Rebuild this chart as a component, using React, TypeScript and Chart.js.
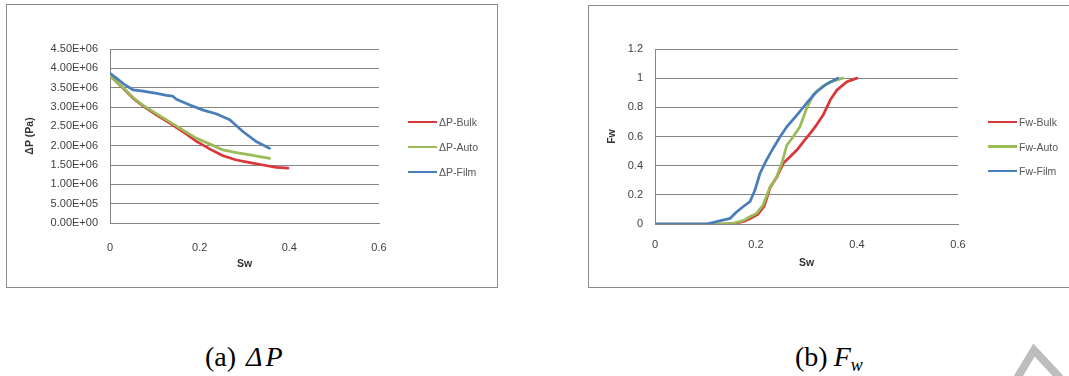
import React, { useEffect, useRef } from "react";
import { Chart, registerables } from "chart.js";

Chart.register(...registerables);

// ---------- data: (a) pressure drop ----------
const dpBulkSw = [0, 0.03, 0.052, 0.074, 0.104, 0.134, 0.163, 0.193, 0.223, 0.252, 0.282, 0.312, 0.341, 0.371, 0.397];
const dpBulk = [3.82e6, 3.48e6, 3.22e6, 3.02e6, 2.79e6, 2.58e6, 2.36e6, 2.11e6, 1.91e6, 1.74e6, 1.63e6, 1.56e6, 1.5e6, 1.44e6, 1.42e6];

const dpAutoSw = [0, 0.03, 0.052, 0.074, 0.104, 0.134, 0.163, 0.193, 0.223, 0.252, 0.282, 0.312, 0.356];
const dpAuto = [3.8e6, 3.49e6, 3.24e6, 3.04e6, 2.82e6, 2.61e6, 2.4e6, 2.19e6, 2.04e6, 1.89e6, 1.82e6, 1.76e6, 1.67e6];

const dpFilmSw = [0, 0.015, 0.03, 0.052, 0.074, 0.09, 0.104, 0.126, 0.14, 0.148, 0.178, 0.208, 0.238, 0.267, 0.297, 0.327, 0.356];
const dpFilm = [3.87e6, 3.74e6, 3.6e6, 3.44e6, 3.41e6, 3.38e6, 3.35e6, 3.3e6, 3.28e6, 3.2e6, 3.05e6, 2.92e6, 2.82e6, 2.67e6, 2.36e6, 2.1e6, 1.93e6];

// ---------- data: (b) fractional flow ----------
const fwBulkSw = [0, 0.1, 0.135, 0.16, 0.178, 0.19, 0.203, 0.216, 0.228, 0.241, 0.254, 0.267, 0.281, 0.294, 0.307, 0.32, 0.333, 0.347, 0.36, 0.38, 0.4];
const fwBulk = [0, 0, 0, 0.005, 0.02, 0.04, 0.065, 0.12, 0.25, 0.32, 0.416, 0.46, 0.507, 0.565, 0.62, 0.68, 0.747, 0.85, 0.918, 0.975, 1.0];

const fwAutoSw = [0, 0.1, 0.129, 0.155, 0.175, 0.188, 0.201, 0.214, 0.228, 0.241, 0.251, 0.261, 0.274, 0.287, 0.3, 0.313, 0.33, 0.347, 0.372];
const fwAuto = [0, 0, 0, 0.005, 0.023, 0.05, 0.073, 0.13, 0.256, 0.324, 0.416, 0.54, 0.6, 0.667, 0.79, 0.885, 0.94, 0.975, 1.0];

const fwFilmSw = [0, 0.05, 0.102, 0.122, 0.149, 0.162, 0.175, 0.188, 0.198, 0.208, 0.221, 0.234, 0.248, 0.261, 0.281, 0.3, 0.32, 0.34, 0.362];
const fwFilm = [0, 0, 0, 0.016, 0.039, 0.084, 0.12, 0.153, 0.233, 0.348, 0.44, 0.52, 0.6, 0.667, 0.747, 0.828, 0.907, 0.96, 1.0];

// ---------- ticks / labels ----------
const swTicks = [0, 0.2, 0.4, 0.6];
const dpTicks = [0, 0.5e6, 1e6, 1.5e6, 2e6, 2.5e6, 3e6, 3.5e6, 4e6, 4.5e6];
const fwTicks = [0, 0.2, 0.4, 0.6, 0.8, 1, 1.2];
const dpLabels = ["ΔP-Bulk", "ΔP-Auto", "ΔP-Film"];
const fwLabels = ["Fw-Bulk", "Fw-Auto", "Fw-Film"];
const seriesColors = ["#d8383a", "#9bbb59", "#4a7ebb"];

const TICK_FONT = "'Liberation Sans', Arial, sans-serif";
const GRID = "#858585";

function fmtE(v: number): string {
  if (v === 0) return "0.00E+00";
  const [m, e] = v.toExponential(2).split("e");
  const n = parseInt(e, 10);
  return `${m}E${n < 0 ? "-" : "+"}${String(Math.abs(n)).padStart(2, "0")}`;
}

function fmtPlain(v: number): string {
  return String(Math.round(v * 100) / 100);
}

type Series = { label: string; x: number[]; y: number[]; color: string; order: number };

type PanelProps = {
  width: number;
  height: number;
  series: Series[];
  yTicks: number[];
  yFmt: (v: number) => string;
  yTitle: string;
  padTop: number;
  padRight: number;
  yAxisW: number;
  xAxisH: number;
  yTitlePad: number;
  xTickPad: number;
  xTitlePad: number;
};

function ChartPanel(p: PanelProps) {
  const ref = useRef<HTMLCanvasElement | null>(null);
  useEffect(() => {
    if (!ref.current) return;
    const chart = new Chart(ref.current, {
      type: "scatter",
      data: {
        datasets: p.series.map((s) => ({
          label: s.label,
          data: s.x.map((x, i) => ({ x, y: s.y[i] })),
          showLine: true,
          borderColor: s.color,
          backgroundColor: s.color,
          borderWidth: 2.75,
          pointRadius: 0,
          pointHoverRadius: 0,
          tension: 0,
          order: s.order,
          borderCapStyle: "round",
          borderJoinStyle: "round",
        })),
      },
      options: {
        responsive: false,
        maintainAspectRatio: false,
        animation: false,
        events: [],
        layout: { padding: { top: p.padTop, right: p.padRight, left: 0, bottom: 0 } },
        plugins: { legend: { display: false }, tooltip: { enabled: false } },
        scales: {
          x: {
            type: "linear",
            min: swTicks[0],
            max: swTicks[swTicks.length - 1],
            afterBuildTicks: (s: any) => {
              s.ticks = swTicks.map((v) => ({ value: v }));
            },
            afterFit: (s: any) => {
              s.height = p.xAxisH;
            },
            ticks: {
              padding: p.xTickPad,
              color: "#404040",
              font: { family: TICK_FONT, size: 11 },
              callback: (v: any) => fmtPlain(Number(v)),
              maxRotation: 0,
            },
            grid: { display: false, drawTicks: false },
            border: { display: true, color: GRID, width: 1 },
            title: {
              display: true,
              text: "Sw",
              color: "#333",
              font: { family: TICK_FONT, size: 10.5, weight: "bold" },
              padding: { top: 0, bottom: p.xTitlePad },
            },
          },
          y: {
            type: "linear",
            min: p.yTicks[0],
            max: p.yTicks[p.yTicks.length - 1],
            afterBuildTicks: (s: any) => {
              s.ticks = p.yTicks.map((v) => ({ value: v }));
            },
            afterFit: (s: any) => {
              s.width = p.yAxisW;
            },
            ticks: {
              padding: 12,
              color: "#404040",
              font: { family: TICK_FONT, size: 11 },
              callback: (v: any) => p.yFmt(Number(v)),
            },
            grid: { color: GRID, lineWidth: 1, drawTicks: false },
            border: { display: true, color: GRID, width: 1 },
            title: {
              display: true,
              text: p.yTitle,
              color: "#333",
              font: { family: TICK_FONT, size: 10.5, weight: "bold" },
              padding: { top: p.yTitlePad, bottom: 0 },
            },
          },
        },
      },
    } as any);
    return () => chart.destroy();
  }, []);
  return <canvas ref={ref} width={p.width} height={p.height} style={{ display: "block" }} />;
}

function Legend({ left, top, gap, labels }: { left: number; top: number; gap: number; labels: string[] }) {
  return (
    <>
      {labels.map((l, i) => (
        <div
          key={l}
          style={{
            position: "absolute",
            left,
            top: top + i * gap - 7,
            height: 14,
            display: "flex",
            alignItems: "center",
            whiteSpace: "nowrap",
          }}
        >
          <div style={{ width: 29, height: 2.25, background: seriesColors[i], marginRight: 2 }} />
          <span style={{ fontFamily: TICK_FONT, fontSize: 10.5, color: "#555" }}>{l}</span>
        </div>
      ))}
    </>
  );
}

export default function App() {
  const dpSeries: Series[] = [
    { label: dpLabels[0], x: dpBulkSw, y: dpBulk, color: seriesColors[0], order: 2 },
    { label: dpLabels[1], x: dpAutoSw, y: dpAuto, color: seriesColors[1], order: 1 },
    { label: dpLabels[2], x: dpFilmSw, y: dpFilm, color: seriesColors[2], order: 0 },
  ];
  const fwSeries: Series[] = [
    { label: fwLabels[0], x: fwBulkSw, y: fwBulk, color: seriesColors[0], order: 2 },
    { label: fwLabels[1], x: fwAutoSw, y: fwAuto, color: seriesColors[1], order: 1 },
    { label: fwLabels[2], x: fwFilmSw, y: fwFilm, color: seriesColors[2], order: 0 },
  ];
  return (
    <div
      style={{
        position: "fixed",
        left: 0,
        top: 0,
        width: 1069,
        height: 376,
        background: "#fff",
        overflow: "hidden",
      }}
    >
      {/* panel (a) */}
      <div
        style={{
          position: "absolute",
          left: 6,
          top: 4,
          width: 492,
          height: 284,
          boxSizing: "border-box",
          border: "1px solid #8c8c8c",
          background: "#fff",
        }}
      >
        <ChartPanel
          width={490}
          height={282}
          series={dpSeries}
          yTicks={dpTicks}
          yFmt={fmtE}
          yTitle="ΔP (Pa)"
          padTop={44}
          padRight={118}
          yAxisW={103}
          xAxisH={64}
          yTitlePad={17}
          xTickPad={18}
          xTitlePad={17}
        />
      </div>
      <Legend left={408} top={122} gap={25} labels={dpLabels} />

      {/* panel (b) */}
      <div
        style={{
          position: "absolute",
          left: 588,
          top: 5,
          width: 500,
          height: 283,
          boxSizing: "border-box",
          border: "1px solid #8c8c8c",
          background: "#fff",
        }}
      >
        <ChartPanel
          width={498}
          height={281}
          series={fwSeries}
          yTicks={fwTicks}
          yFmt={fmtPlain}
          yTitle="Fw"
          padTop={43}
          padRight={129}
          yAxisW={66}
          xAxisH={63}
          yTitlePad={17}
          xTickPad={14}
          xTitlePad={18}
        />
      </div>
      <Legend left={988} top={122} gap={24.5} labels={fwLabels} />

      {/* captions */}
      <div
        style={{
          position: "absolute",
          left: 205,
          top: 341,
          fontFamily: "'Liberation Serif', 'Times New Roman', serif",
          fontSize: 28,
          lineHeight: "normal",
          whiteSpace: "nowrap",
          color: "#000",
        }}
      >
        (a)<span style={{ marginLeft: 10, fontStyle: "italic" }}>Δ</span>
        <span style={{ marginLeft: 3, fontStyle: "italic" }}>P</span>
      </div>
      <div
        style={{
          position: "absolute",
          left: 795,
          top: 341,
          fontFamily: "'Liberation Serif', 'Times New Roman', serif",
          fontSize: 28,
          lineHeight: "normal",
          whiteSpace: "nowrap",
          color: "#000",
        }}
      >
        (b)<span style={{ marginLeft: 6, fontStyle: "italic" }}>F</span>
        <span style={{ fontStyle: "italic", fontSize: 18, verticalAlign: "-5px" }}>w</span>
      </div>

      {/* faint watermark mark */}
      <svg
        width={1069}
        height={376}
        style={{ position: "absolute", left: 0, top: 0, pointerEvents: "none" }}
      >
        <polyline
          points="1016,380 1034,350 1060,378"
          fill="none"
          stroke="#bdbdbd"
          strokeWidth={8}
          strokeLinejoin="miter"
        />
      </svg>
    </div>
  );
}
